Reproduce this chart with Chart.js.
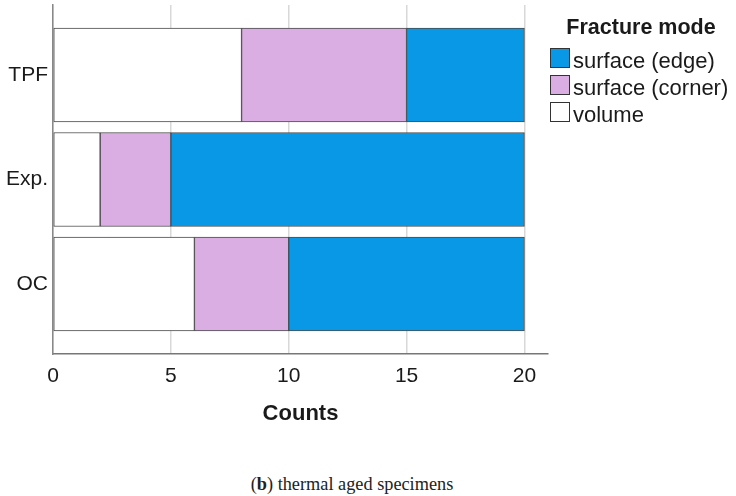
<!DOCTYPE html>
<html>
<head>
<meta charset="utf-8">
<script src="https://cdn.jsdelivr.net/npm/chart.js@4/dist/chart.umd.min.js"></script>
<style>
  html, body { margin: 0; padding: 0; background: #fff; }
  #wrap { position: relative; width: 736px; height: 496px; font-family: "Liberation Sans", Arial, sans-serif; color: #1a1a1a; }
  #fractureChart { position: absolute; left: 0; top: 0; }
  #legend { position: absolute; left: 550px; top: 0; width: 186px; }
  #legend .title { position: absolute; left: 0; top: 17px; width: 182px; text-align: center; font-weight: bold; font-size: 21.5px; line-height: 21.5px; white-space: nowrap; }
  #legend .item { position: absolute; left: 0; height: 27px; line-height: 27px; font-size: 22px; white-space: nowrap; }
  #legend .box { display: inline-block; width: 18px; height: 18px; border: 1px solid #333; vertical-align: baseline; margin-right: 3px; }
  #caption {
    position: absolute; left: 0; width: 704px; top: 474px; line-height: 20px; text-align: center;
    font-family: "Liberation Serif", serif; font-size: 18.3px; color: #222;
  }
</style>
</head>
<body>
<div id="wrap">
  <canvas id="fractureChart" width="736" height="440"></canvas>
  <div id="legend"></div>
  <div id="caption">(<b>b</b>) thermal aged specimens</div>
</div>
<script>
// groups, top to bottom
var groups = ['TPF', 'Exp.', 'OC'];
// counts per fracture mode
var volume = [8, 2, 6];
var corner = [7, 3, 4];
var edge = [5, 15, 10];
var xTicks = [0, 5, 10, 15, 20];

var modes = ['volume', 'surface (corner)', 'surface (edge)'];
var modeColors = ['#ffffff', '#dbaee3', '#0898e6'];

function pts(vals) {
  return vals.map(function (v, i) { return { x: v, y: i }; });
}

var ctx = document.getElementById('fractureChart').getContext('2d');
var chart = new Chart(ctx, {
  type: 'bar',
  data: {
    datasets: [
      { label: modes[0], data: pts(volume), backgroundColor: modeColors[0] },
      { label: modes[1], data: pts(corner), backgroundColor: modeColors[1] },
      { label: modes[2], data: pts(edge), backgroundColor: modeColors[2] }
    ]
  },
  options: {
    responsive: false,
    animation: false,
    indexAxis: 'y',
    datasets: {
      bar: { barThickness: 94, borderColor: '#4a4a4a', borderWidth: 1, borderSkipped: false }
    },
    layout: { padding: { top: 5, right: 188, left: 0, bottom: 0 } },
    scales: {
      x: {
        type: 'linear',
        stacked: true,
        min: 0,
        max: 21,
        afterBuildTicks: function (s) { s.ticks = xTicks.map(function (v) { return { value: v }; }); },
        afterFit: function (s) { s.height = 86; s.paddingLeft = 0; s.paddingRight = 0; },
        grid: { color: '#d8d8d8', lineWidth: 1.5, drawTicks: false },
        border: { color: '#777', width: 1.5 },
        ticks: { color: '#1a1a1a', padding: 10, font: { family: 'Liberation Sans', size: 21 } },
        title: {
          display: true, text: 'Counts', color: '#1a1a1a',
          font: { family: 'Liberation Sans', size: 22, weight: 'bold' },
          padding: { top: 0, bottom: 13 }
        }
      },
      y: {
        type: 'linear',
        stacked: true,
        reverse: true,
        offset: false,
        min: -0.67,
        max: 2.67,
        afterBuildTicks: function (s) { s.ticks = groups.map(function (g, i) { return { value: i }; }); },
        afterFit: function (s) { s.width = 53; s.paddingTop = 0; s.paddingBottom = 0; },
        grid: { display: false, drawTicks: false },
        border: { color: '#888', width: 1.5 },
        ticks: {
          color: '#1a1a1a', padding: 5, font: { family: 'Liberation Sans', size: 21 },
          callback: function (v) { return groups[v]; }
        }
      }
    },
    plugins: {
      tooltip: { enabled: false },
      legend: { display: false }
    }
  }
});

// legend, edge first as in the figure
var legend = document.getElementById('legend');
var html = '<div class="title">Fracture mode</div>';
for (var k = modes.length - 1, row = 0; k >= 0; k--, row++) {
  html += '<div class="item" style="top:' + (47 + row * 27) + 'px"><span class="box" style="background:' +
    modeColors[k] + '"></span>' + modes[k] + '</div>';
}
legend.innerHTML = html;
</script>
</body>
</html>
